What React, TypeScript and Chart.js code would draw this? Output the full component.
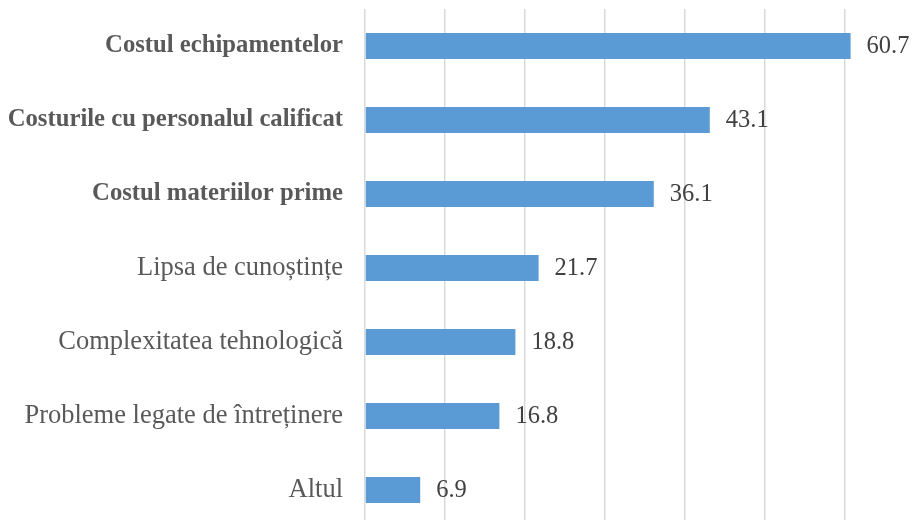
import React, { useEffect, useRef } from "react";
import { Chart, registerables } from "chart.js";

Chart.register(...registerables);

const categories = [
  "Costul echipamentelor",
  "Costurile cu personalul calificat",
  "Costul materiilor prime",
  "Lipsa de cunoștințe",
  "Complexitatea tehnologică",
  "Probleme legate de întreținere",
  "Altul",
];
const values = [60.7, 43.1, 36.1, 21.7, 18.8, 16.8, 6.9];
const boldCount = 3;
const xTicks = [0, 10, 20, 30, 40, 50, 60, 70];

const FONT = "'Liberation Serif', 'Times New Roman', serif";

const valueLabels = {
  id: "valueLabels",
  afterDatasetsDraw(chart: any) {
    const { ctx } = chart;
    const meta = chart.getDatasetMeta(0);
    ctx.save();
    ctx.font = `24.5px ${FONT}`;
    ctx.fillStyle = "#404040";
    ctx.textAlign = "left";
    ctx.textBaseline = "middle";
    meta.data.forEach((bar: any, i: number) => {
      ctx.fillText(values[i].toFixed(1), bar.x + 16, bar.y + 1);
    });
    ctx.restore();
  },
};

export default function App() {
  const ref = useRef<HTMLCanvasElement>(null);
  useEffect(() => {
    if (!ref.current) return;
    const chart = new Chart(ref.current, {
      type: "bar",
      data: {
        labels: categories,
        datasets: [
          {
            data: values,
            backgroundColor: "#5B9BD5",
            borderWidth: 0,
            categoryPercentage: 1,
            barPercentage: 0.351,
          },
        ],
      },
      options: {
        indexAxis: "y",
        animation: false,
        responsive: false,
        maintainAspectRatio: false,
        layout: { padding: { top: 0, right: 5, bottom: 0, left: 0 } },
        plugins: { legend: { display: false }, tooltip: { enabled: false } },
        scales: {
          x: {
            min: 0,
            max: 70,
            afterBuildTicks: (scale: any) => {
              scale.ticks = xTicks.map((v) => ({ value: v }));
            },
            ticks: { display: false },
            grid: { color: "#D9D9D9", lineWidth: 1.5, drawTicks: false },
            border: { display: false },
          },
          y: {
            afterFit: (scale: any) => {
              scale.width = 365;
            },
            ticks: {
              padding: 22,
              font: (c: any) => ({
                family: FONT,
                size: c.index < boldCount ? 24.7 : 26.5,
                weight: c.index < boldCount ? "bold" : "normal",
                lineHeight: "20px",
              }),
              color: "#595959",
            },
            grid: { display: false, drawTicks: false },
            border: { display: false },
          },
        },
      },
      plugins: [valueLabels],
    });
    return () => chart.destroy();
  }, []);
  return (
    <div style={{ position: "fixed", left: 0, top: 0, width: 912, height: 520, overflow: "hidden", background: "#fff" }}>
      <canvas ref={ref} width={930} height={582} style={{ position: "absolute", left: 0, top: -23 }} />
    </div>
  );
}
